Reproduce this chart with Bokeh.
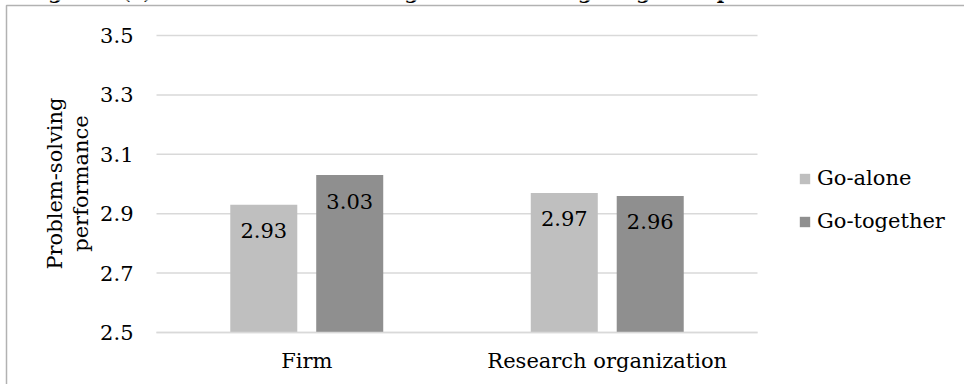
import math

from bokeh.core.properties import value
from bokeh.embed import file_html
from bokeh.models import (BoxAnnotation, ColumnDataSource, FixedTicker, Label, Legend,
                          LegendItem, LinearAxis, Range1d)
from bokeh.plotting import figure
from bokeh.resources import INLINE

# ---- data ---------------------------------------------------------------
categories = ["Firm", "Research organization"]
series_names = ["Go-alone", "Go-together"]
go_alone = [2.93, 2.97]
go_together = [3.03, 2.96]
y_ticks = [2.5, 2.7, 2.9, 3.1, 3.3, 3.5]
y_title = ["Problem-solving", "performance"]
title_text = "Figure 1(a): Firm and research organization and go-together performance"

# ---- layout / styling ---------------------------------------------------
W, H = 964, 384
PLOT_L, PLOT_R, PLOT_T, PLOT_B = 156, 757, 35, 332   # plot-area box in pixels
FONT = "DejaVu Serif"
FS = "21px"
COLORS = ["#bfbfbf", "#8f8f8f"]
GRID = "#d9d9d9"
BAR_W = 0.223
OFFSET = 0.143

n = len(categories)
y0, y1 = y_ticks[0], y_ticks[-1]
px_x = (PLOT_R - PLOT_L) / n
px_y = (PLOT_B - PLOT_T) / (y1 - y0)
x_range = Range1d(-PLOT_L / px_x, n + (W - PLOT_R) / px_x)
y_range = Range1d(y0 - (H - PLOT_B) / px_y, y1 + PLOT_T / px_y)

centers = [i + 0.5 for i in range(n)]
src = ColumnDataSource(dict(
    xa=[c - OFFSET for c in centers],
    xt=[c + OFFSET for c in centers],
    alone=go_alone,
    together=go_together,
    alone_lbl=[f"{v:.2f}" for v in go_alone],
    together_lbl=[f"{v:.2f}" for v in go_together],
))

p = figure(width=W, height=H, output_backend="svg", toolbar_location=None,
           x_range=x_range, y_range=y_range, min_border=0, x_axis_type=None,
           y_axis_type=None)
p.outline_line_color = None
p.background_fill_color = "white"
p.border_fill_color = "white"
p.grid.visible = False

# horizontal gridlines across the plot area
p.segment(x0=0, x1=n, y0=y_ticks, y1=y_ticks, line_color=GRID, line_width=1.5)

r_alone = p.vbar(x="xa", top="alone", bottom=y0, width=BAR_W, source=src,
                 fill_color=COLORS[0], line_color=None)
r_tog = p.vbar(x="xt", top="together", bottom=y0, width=BAR_W, source=src,
               fill_color=COLORS[1], line_color=None)

# value labels just inside the top of each bar
for xcol, col in (("xa", "alone"), ("xt", "together")):
    p.text(x=xcol, y=col, text=f"{col}_lbl", source=src,
           text_align="center", text_baseline="middle", y_offset=26,
           text_font=value(FONT), text_font_size=FS, text_color="#000000")

# value axis pinned to the left edge of the plot area
yax = LinearAxis(fixed_location=0, ticker=FixedTicker(ticks=y_ticks))
yax.axis_line_color = None
yax.major_tick_line_color = None
yax.minor_tick_line_color = None
yax.major_label_standoff = 17
yax.major_label_text_font = FONT
yax.major_label_text_font_size = FS
yax.major_label_text_color = "#000000"
p.add_layout(yax, "left")

# category axis pinned to the baseline
xax = LinearAxis(fixed_location=y0, ticker=FixedTicker(ticks=centers), bounds=(0, n),
                 major_label_overrides={c: name for c, name in zip(centers, categories)})
xax.axis_line_color = GRID
xax.axis_line_width = 1.5
xax.major_tick_line_color = None
xax.minor_tick_line_color = None
xax.major_label_standoff = 10
xax.major_label_text_font = FONT
xax.major_label_text_font_size = FS
xax.major_label_text_color = "#000000"
p.add_layout(xax, "below")

# y-axis title on two rotated lines
for sx, line in zip((54, 80), y_title):
    p.add_layout(Label(x=sx, y=H - 183, x_units="screen", y_units="screen", text=line,
                       angle=math.pi / 2, text_align="center", text_baseline="middle",
                       text_font=FONT, text_font_size=FS, text_color="#000000"))

# legend to the right of the plot area
legend = Legend(items=[LegendItem(label=series_names[0], renderers=[r_alone]),
                       LegendItem(label=series_names[1], renderers=[r_tog])],
                location=(798, 151), orientation="vertical",
                glyph_width=13, glyph_height=13, label_standoff=6,
                label_height=13, spacing=19, padding=0, margin=0,
                border_line_color=None, background_fill_alpha=0,
                label_text_font=FONT, label_text_font_size=FS,
                label_text_color="#000000")
p.add_layout(legend, "center")

# chart border and title running off the top edge
p.add_layout(BoxAnnotation(left=6, right=W + 40, top=H - 5, bottom=-40,
                           left_units="screen", right_units="screen",
                           top_units="screen", bottom_units="screen",
                           fill_alpha=0, line_color="#000000", line_width=1.5))
p.add_layout(Label(x=26, y=H + 9, x_units="screen", y_units="screen", text=title_text,
                   text_align="left", text_baseline="alphabetic",
                   text_font=FONT, text_font_style="bold", text_font_size="20px",
                   text_color="#000000"))

open("out.html", "w").write(file_html(p, INLINE))
